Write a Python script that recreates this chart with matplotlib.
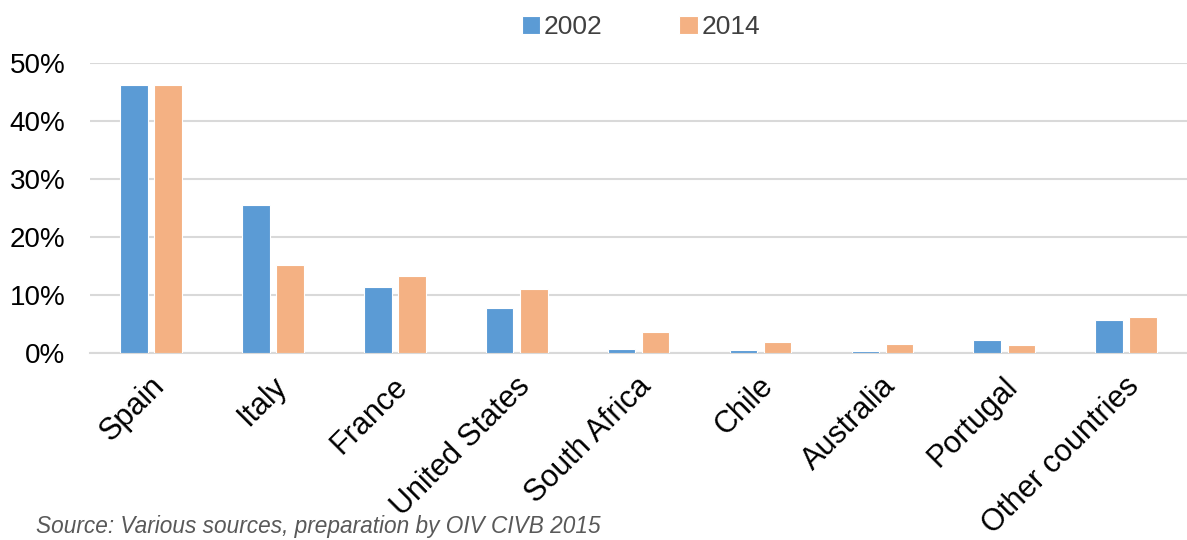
import matplotlib
matplotlib.use("Agg")
import matplotlib.pyplot as plt
from matplotlib.ticker import PercentFormatter
from matplotlib.transforms import ScaledTranslation
import numpy as np

countries = ["Spain", "Italy", "France", "United States", "South Africa",
             "Chile", "Australia", "Portugal", "Other countries"]
share_2002 = [46.2, 25.5, 11.4, 7.8, 0.7, 0.5, 0.3, 2.2, 5.7]
share_2014 = [46.2, 15.2, 13.3, 11.0, 3.6, 1.9, 1.6, 1.4, 6.2]

BLUE = "#5B9BD5"
ORANGE = "#F4B183"
GRID = "#D9D9D9"

plt.rcParams["font.family"] = ["Liberation Sans", "DejaVu Sans"]

fig = plt.figure(figsize=(11.87, 5.40), dpi=100)
ax = fig.add_axes([0.076, 0.346, 0.924, 0.537])

x = np.arange(len(countries))
w = 0.225
ax.bar(x - 0.14, share_2002, w, color=BLUE, edgecolor="white", lw=0.8,
       label="2002", zorder=3)
ax.bar(x + 0.14, share_2014, w, color=ORANGE, edgecolor="white", lw=0.8,
       label="2014", zorder=3)

ax.set_xlim(-0.5, len(countries) - 0.5)
ax.set_ylim(0, 50)
ax.set_yticks(range(0, 51, 10))
ax.yaxis.set_major_formatter(PercentFormatter(decimals=0))
ax.grid(axis="y", color=GRID, lw=1.5, zorder=0)
for s in ["top", "right", "left"]:
    ax.spines[s].set_visible(False)
ax.spines["bottom"].set_color(GRID)
ax.spines["bottom"].set_linewidth(1.5)
ax.tick_params(axis="y", length=0, labelsize=20, colors="black", pad=18)

ax.set_xticks(x)
ax.set_xticklabels(countries, rotation=45, ha="right", rotation_mode="anchor")
ax.tick_params(axis="x", length=0, labelsize=22, colors="black", pad=13)
shift = ScaledTranslation(-0.02, 0, fig.dpi_scale_trans)
for t in ax.get_xticklabels():
    t.set_transform(t.get_transform() + shift)

fig.legend(loc="center", bbox_to_anchor=(0.54, 0.95), ncol=2, frameon=False,
           fontsize=19, handlelength=0.7, handleheight=0.7, handletextpad=0.15,
           columnspacing=2.9, labelcolor="#404040")

fig.text(0.03, 0.003, "Source: Various sources, preparation by OIV CIVB 2015",
         fontsize=16.3, style="italic", color="#595959", va="bottom")

fig.savefig("out.png", dpi=100)
